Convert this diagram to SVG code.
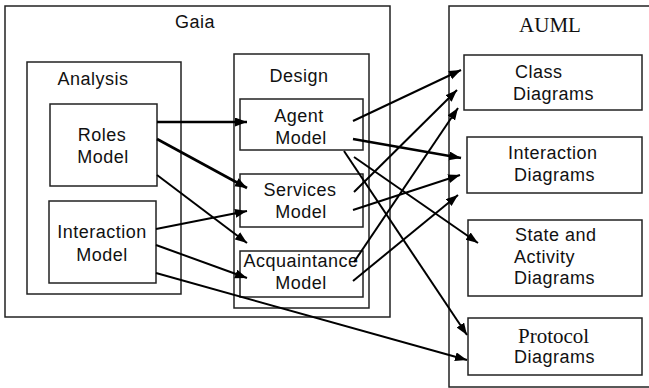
<svg xmlns="http://www.w3.org/2000/svg" width="649" height="388" viewBox="0 0 649 388">
<style>
.box{fill:none;stroke:#222;stroke-width:1.5}
.t{font-family:"Liberation Sans",Arial,sans-serif;font-size:18px;fill:#111;letter-spacing:0.5px}
.c{text-anchor:middle}
.s{font-family:"Liberation Serif","Times New Roman",serif;font-size:21px;fill:#111}
.a{fill:none;stroke:#000;stroke-width:2;marker-end:url(#ah)}
.k{stroke-width:2.6}
</style>
<defs>
<marker id="ah" markerUnits="userSpaceOnUse" markerWidth="13" markerHeight="10" refX="12" refY="4.5" orient="auto">
<path d="M0,0 L12,4.5 L0,9 z" fill="#000"/>
</marker>
</defs>
<rect width="649" height="388" fill="#fff"/>
<g id="gaia">
<rect class="box" x="5" y="6" width="385" height="311"/>
<text class="t c" x="195" y="28">Gaia</text>
</g>
<g id="analysis">
<rect class="box" x="27" y="62" width="154" height="232"/>
<text class="t c" x="93" y="85">Analysis</text>
</g>
<g id="roles-model">
<rect class="box" x="50" y="104" width="107" height="82"/>
<text class="t c" x="102" y="141">Roles</text>
<text class="t c" x="103" y="163">Model</text>
</g>
<g id="interaction-model">
<rect class="box" x="49" y="201" width="107" height="82"/>
<text class="t c" x="102" y="238">Interaction</text>
<text class="t c" x="102" y="261">Model</text>
</g>
<g id="design">
<rect class="box" x="234" y="54" width="135" height="254"/>
<text class="t c" x="299" y="82">Design</text>
</g>
<g id="agent-model">
<rect class="box" x="240" y="99" width="123" height="51"/>
<text class="t c" x="299" y="122">Agent</text>
<text class="t c" x="301" y="144">Model</text>
</g>
<g id="services-model">
<rect class="box" x="240" y="174" width="123" height="53"/>
<text class="t c" x="300" y="196">Services</text>
<text class="t c" x="301" y="218">Model</text>
</g>
<g id="acquaintance-model">
<rect class="box" x="240" y="251" width="123" height="46"/>
<text class="t c" x="301" y="267">Acquaintance</text>
<text class="t c" x="301" y="289">Model</text>
</g>
<g id="auml">
<rect class="box" x="449" y="6" width="215" height="381"/>
<text class="s c" x="550" y="32">AUML</text>
</g>
<g id="class-diagrams">
<rect class="box" x="464" y="55" width="178" height="55"/>
<text class="t" x="515" y="78">Class</text>
<text class="t" x="513" y="100">Diagrams</text>
</g>
<g id="interaction-diagrams">
<rect class="box" x="467" y="137" width="175" height="56"/>
<text class="t" x="508" y="159">Interaction</text>
<text class="t" x="514" y="181">Diagrams</text>
</g>
<g id="state-activity-diagrams">
<rect class="box" x="468" y="220" width="174" height="76"/>
<text class="t" x="515" y="241">State and</text>
<text class="t" x="514" y="263">Activity</text>
<text class="t" x="514" y="284">Diagrams</text>
</g>
<g id="protocol-diagrams">
<rect class="box" x="468" y="318" width="174" height="57"/>
<text class="s" x="518" y="343">Protocol</text>
<text class="t" x="514" y="363">Diagrams</text>
</g>
<g id="connectors">
<line class="a k" x1="157" y1="122" x2="247" y2="122"/>
<line class="a k" x1="157" y1="139" x2="247" y2="188"/>
<line class="a" x1="157" y1="175" x2="247" y2="243"/>
<line class="a" x1="156" y1="229" x2="247" y2="211"/>
<line class="a" x1="156" y1="245" x2="247" y2="278"/>
<line class="a" x1="156" y1="273" x2="467" y2="360"/>
<line class="a" x1="353" y1="121" x2="461" y2="70"/>
<line class="a k" x1="353" y1="139" x2="461" y2="158"/>
<line class="a" x1="354" y1="157" x2="478" y2="243"/>
<line class="a" x1="344" y1="151" x2="467" y2="335"/>
<line class="a" x1="354" y1="192" x2="457" y2="90"/>
<line class="a" x1="353" y1="210" x2="460" y2="175"/>
<line class="a" x1="354" y1="262" x2="458" y2="108"/>
<line class="a" x1="353" y1="281" x2="458" y2="195"/>
</g>
</svg>
